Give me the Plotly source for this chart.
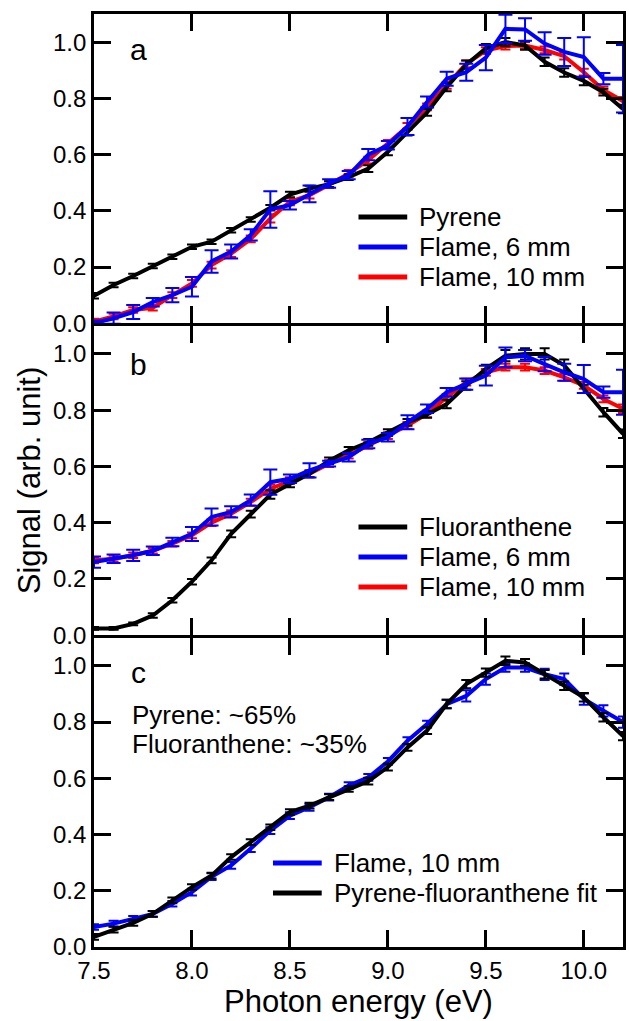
import plotly.graph_objects as go
from plotly.subplots import make_subplots

# ---------------- data ----------------
energy = [7.5, 7.6, 7.7, 7.8, 7.9, 8.0, 8.1, 8.2, 8.3, 8.4,
          8.5, 8.6, 8.7, 8.8, 8.9, 9.0, 9.1, 9.2, 9.3, 9.4,
          9.5, 9.6, 9.7, 9.8, 9.9, 10.0, 10.1, 10.2]

# panel a
pyrene_a = [0.098, 0.136, 0.168, 0.204, 0.237, 0.272, 0.290, 0.331, 0.369, 0.411,
            0.458, 0.479, 0.495, 0.520, 0.550, 0.610, 0.680, 0.750, 0.840, 0.920,
            0.978, 1.000, 0.988, 0.930, 0.892, 0.862, 0.822, 0.762]
pyrene_a_err = [0.010, 0.008, 0.008, 0.008, 0.008, 0.008, 0.008, 0.008, 0.008, 0.010,
                0.010, 0.010, 0.010, 0.010, 0.012, 0.012, 0.012, 0.012, 0.015, 0.015,
                0.015, 0.015, 0.015, 0.015, 0.015, 0.015, 0.012, 0.015]
flame6_a = [0.000, 0.018, 0.040, 0.075, 0.100, 0.130, 0.220, 0.255, 0.314, 0.405,
            0.420, 0.460, 0.497, 0.527, 0.600, 0.633, 0.700, 0.787, 0.870, 0.893,
            0.945, 1.047, 1.045, 0.995, 0.965, 0.947, 0.870, 0.870]
flame6_a_err = [0.010, 0.020, 0.025, 0.015, 0.025, 0.035, 0.040, 0.025, 0.020, 0.065,
                0.015, 0.030, 0.015, 0.015, 0.020, 0.015, 0.030, 0.020, 0.025, 0.030,
                0.045, 0.050, 0.040, 0.040, 0.050, 0.070, 0.020, 0.120]
flame10_a = [0.006, 0.024, 0.047, 0.055, 0.100, 0.142, 0.207, 0.248, 0.300, 0.373,
             0.432, 0.456, 0.493, 0.533, 0.580, 0.640, 0.700, 0.770, 0.846, 0.923,
             0.970, 0.986, 0.988, 0.972, 0.950, 0.893, 0.830, 0.790]
flame10_a_err = [0.010, 0.010, 0.010, 0.010, 0.010, 0.012, 0.012, 0.012, 0.012, 0.015,
                 0.012, 0.012, 0.012, 0.012, 0.012, 0.012, 0.012, 0.012, 0.012, 0.012,
                 0.012, 0.012, 0.012, 0.012, 0.012, 0.012, 0.012, 0.015]

# panel b
fluor_b = [0.024, 0.024, 0.040, 0.070, 0.124, 0.190, 0.266, 0.360, 0.430, 0.500,
           0.538, 0.574, 0.620, 0.657, 0.686, 0.720, 0.757, 0.785, 0.822, 0.888,
           0.947, 0.994, 1.000, 1.000, 0.960, 0.876, 0.793, 0.716]
fluor_b_err = [0.005, 0.005, 0.005, 0.008, 0.008, 0.010, 0.010, 0.012, 0.012, 0.015,
               0.012, 0.012, 0.012, 0.012, 0.012, 0.012, 0.012, 0.012, 0.015, 0.015,
               0.015, 0.020, 0.020, 0.020, 0.020, 0.015, 0.015, 0.015]
flame6_b = [0.260, 0.272, 0.284, 0.300, 0.331, 0.360, 0.420, 0.438, 0.480, 0.544,
            0.556, 0.586, 0.610, 0.633, 0.680, 0.704, 0.757, 0.805, 0.864, 0.893,
            0.923, 0.988, 0.994, 0.964, 0.935, 0.911, 0.864, 0.864]
flame6_b_err = [0.020, 0.015, 0.020, 0.015, 0.015, 0.025, 0.030, 0.020, 0.020, 0.045,
                0.015, 0.025, 0.010, 0.015, 0.015, 0.015, 0.025, 0.015, 0.015, 0.020,
                0.035, 0.035, 0.020, 0.025, 0.030, 0.050, 0.020, 0.080]
flame10_b = [0.266, 0.272, 0.284, 0.300, 0.325, 0.355, 0.400, 0.432, 0.473, 0.520,
             0.550, 0.574, 0.610, 0.640, 0.675, 0.710, 0.746, 0.787, 0.846, 0.900,
             0.935, 0.953, 0.953, 0.941, 0.917, 0.888, 0.840, 0.805]
flame10_b_err = [0.010, 0.010, 0.010, 0.010, 0.010, 0.010, 0.012, 0.012, 0.012, 0.015,
                 0.012, 0.012, 0.012, 0.012, 0.012, 0.012, 0.012, 0.012, 0.012, 0.012,
                 0.012, 0.012, 0.012, 0.012, 0.012, 0.012, 0.012, 0.015]

# panel c
flame10_c = [0.071, 0.083, 0.100, 0.118, 0.154, 0.195, 0.250, 0.290, 0.350, 0.414,
             0.467, 0.497, 0.533, 0.574, 0.603, 0.660, 0.734, 0.793, 0.864, 0.893,
             0.953, 0.994, 0.994, 0.970, 0.953, 0.882, 0.840, 0.800]
flame10_c_err = [0.010, 0.010, 0.010, 0.010, 0.010, 0.012, 0.012, 0.012, 0.012, 0.012,
                 0.012, 0.012, 0.012, 0.012, 0.012, 0.012, 0.012, 0.012, 0.015, 0.020,
                 0.020, 0.015, 0.015, 0.020, 0.020, 0.020, 0.020, 0.020]
fit_c = [0.036, 0.062, 0.086, 0.118, 0.166, 0.213, 0.254, 0.320, 0.373, 0.426,
         0.480, 0.503, 0.533, 0.562, 0.590, 0.640, 0.710, 0.770, 0.864, 0.935,
         0.976, 1.018, 1.012, 0.970, 0.929, 0.888, 0.817, 0.750]
fit_c_err = [0.010, 0.010, 0.010, 0.010, 0.010, 0.010, 0.010, 0.010, 0.010, 0.010,
             0.010, 0.010, 0.010, 0.010, 0.012, 0.012, 0.012, 0.012, 0.015, 0.015,
             0.015, 0.015, 0.012, 0.015, 0.015, 0.015, 0.015, 0.015]

panel_labels = ["a", "b", "c"]
fraction_text = ["Pyrene: ~65%", "Fluoranthene: ~35%"]
x_ticks = [7.5, 8.0, 8.5, 9.0, 9.5, 10.0]
y_ticks = [0.0, 0.2, 0.4, 0.6, 0.8, 1.0]

# ---------------- style / layout ----------------
FONT = "Liberation Sans, Arial, Helvetica, sans-serif"
BLACK, BLUE, RED = "#000000", "#0000ff", "#ff0000"
LW = 4
W, H = 629, 1021
M_L, M_R, M_T, M_B = 94, 3, 14, 74
FRAME = 2.6
PLOT_H = H - M_T - M_B
GAP = FRAME / PLOT_H

fig = make_subplots(rows=3, cols=1, shared_xaxes=True, vertical_spacing=GAP)


def add(row, y, err, color, name, cap=5):
    fig.add_trace(go.Scatter(
        x=energy, y=y, mode="lines", name=name, showlegend=False,
        line=dict(color=color, width=LW),
        error_y=dict(type="data", array=err, visible=True, color=color,
                     thickness=2, width=cap),
    ), row=row, col=1)


add(1, flame10_a, flame10_a_err, RED, "Flame, 10 mm")
add(1, pyrene_a, pyrene_a_err, BLACK, "Pyrene")
add(1, flame6_a, flame6_a_err, BLUE, "Flame, 6 mm", cap=7)

add(2, flame10_b, flame10_b_err, RED, "Flame, 10 mm")
add(2, fluor_b, fluor_b_err, BLACK, "Fluoranthene")
add(2, flame6_b, flame6_b_err, BLUE, "Flame, 6 mm", cap=7)

add(3, flame10_c, flame10_c_err, BLUE, "Flame, 10 mm")
add(3, fit_c, fit_c_err, BLACK, "Pyrene-fluoranthene fit")

axis_common = dict(
    showline=True, linewidth=FRAME, linecolor="black", mirror="ticks",
    ticks="inside", ticklen=17, tickwidth=2.5, tickcolor="black",
    showgrid=False, zeroline=False,
    tickfont=dict(family=FONT, size=24, color="black"),
)

for r in (1, 2, 3):
    fig.update_xaxes(range=[7.5, 10.2], tickvals=x_ticks, tickformat=".1f",
                     showticklabels=(r == 3), row=r, col=1, **axis_common)
    fig.update_yaxes(range=[0, 1.1], tickvals=y_ticks, tickformat=".1f",
                     row=r, col=1, **axis_common)

fig.update_xaxes(title=dict(text="Photon energy (eV)", standoff=5,
                            font=dict(family=FONT, size=31, color="black")),
                 row=3, col=1)
fig.update_yaxes(title=dict(text="Signal (arb. unit)", standoff=4,
                            font=dict(family=FONT, size=31, color="black")),
                 row=2, col=1)


def px_x(px):
    return (px - M_L) / (W - M_L - M_R)


def px_y(py):
    return (H - M_B - py) / PLOT_H


ann = []
shapes = []
# panel letters
label_y = [0.972, 0.962, 0.975]
for i, lab in enumerate(panel_labels):
    sfx = "" if i == 0 else str(i + 1)
    ann.append(dict(text=lab, xref=f"x{sfx} domain", yref=f"y{sfx}",
                    x=0.084, y=label_y[i], xanchor="center", yanchor="middle",
                    showarrow=False, font=dict(family=FONT, size=30, color="black")))
for j, t in enumerate(fraction_text):
    ann.append(dict(text=t, xref="paper", yref="paper",
                    x=px_x(130), y=px_y(715 + 29 * j), xanchor="left", yanchor="middle",
                    showarrow=False, font=dict(family=FONT, size=26, color="black")))

# legends (swatch + label), one block per panel
legend_blocks = [
    (360, 217, [("Pyrene", BLACK), ("Flame, 6 mm", BLUE), ("Flame, 10 mm", RED)]),
    (360, 527, [("Fluoranthene", BLACK), ("Flame, 6 mm", BLUE), ("Flame, 10 mm", RED)]),
    (274, 863, [("Flame, 10 mm", BLUE), ("Pyrene-fluoranthene fit", BLACK)]),
]
for x0, y0, items in legend_blocks:
    for k, (txt, col) in enumerate(items):
        yy = y0 + 30 * k
        shapes.append(dict(type="line", xref="paper", yref="paper",
                           x0=px_x(x0), x1=px_x(x0 + 49), y0=px_y(yy), y1=px_y(yy),
                           line=dict(color=col, width=5)))
        ann.append(dict(text=txt, xref="paper", yref="paper",
                        x=px_x(x0 + 59), y=px_y(yy), xanchor="left", yanchor="middle",
                        showarrow=False, font=dict(family=FONT, size=26, color="black")))

fig.update_layout(
    width=W, height=H,
    margin=dict(l=M_L, r=M_R, t=M_T, b=M_B),
    paper_bgcolor="white", plot_bgcolor="white",
    font=dict(family=FONT, color="black"),
    annotations=ann,
    shapes=shapes,
    showlegend=False,
)

fig.write_html("out.html")
